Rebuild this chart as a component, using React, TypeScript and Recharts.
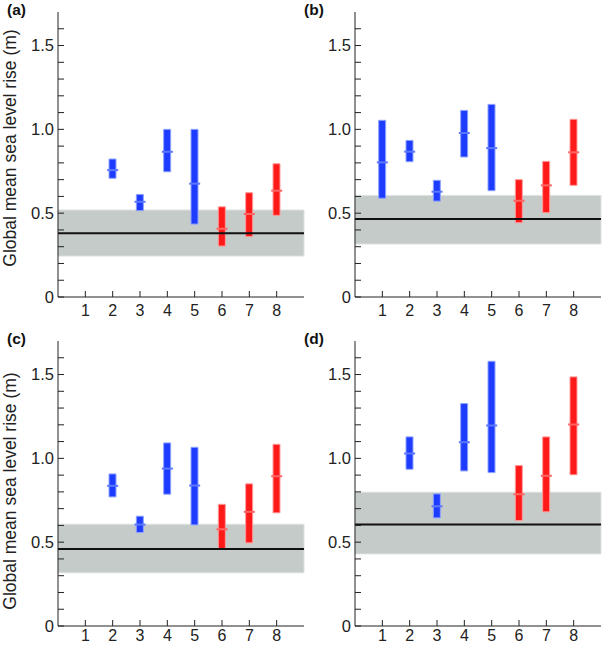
import React from 'react';
import { ComposedChart, Bar, Scatter, XAxis, YAxis, ReferenceArea, ReferenceLine, Cell } from 'recharts';

const categories = [1, 2, 3, 4, 5, 6, 7, 8];
const yTicks = [0, 0.1, 0.2, 0.3, 0.4, 0.5, 0.6, 0.7, 0.8, 0.9, 1.0, 1.1, 1.2, 1.3, 1.4, 1.5, 1.6];
const panelLabels = ['(a)', '(b)', '(c)', '(d)'];
const yTitle = 'Global mean sea level rise (m)';

const aLow = [null, 0.708, 0.515, 0.747, 0.435, 0.304, 0.36, 0.487];
const aHigh = [null, 0.823, 0.612, 1.0, 1.0, 0.538, 0.622, 0.795];
const aMed = [null, 0.757, 0.568, 0.866, 0.676, 0.407, 0.495, 0.634];

const bLow = [0.589, 0.807, 0.572, 0.835, 0.634, 0.443, 0.503, 0.666];
const bHigh = [1.054, 0.934, 0.696, 1.113, 1.149, 0.7, 0.809, 1.06];
const bMed = [0.803, 0.867, 0.628, 0.978, 0.888, 0.574, 0.666, 0.863];

const cLow = [null, 0.77, 0.558, 0.786, 0.603, 0.456, 0.496, 0.675];
const cHigh = [null, 0.907, 0.655, 1.092, 1.066, 0.726, 0.848, 1.084];
const cMed = [null, 0.836, 0.605, 0.939, 0.838, 0.577, 0.681, 0.893];

const dLow = [null, 0.935, 0.645, 0.925, 0.915, 0.629, 0.681, 0.902];
const dHigh = [null, 1.128, 0.788, 1.327, 1.579, 0.957, 1.128, 1.486];
const dMed = [null, 1.029, 0.714, 1.096, 1.196, 0.786, 0.896, 1.202];

const bandLow = [0.244, 0.316, 0.317, 0.43];
const bandHigh = [0.519, 0.606, 0.607, 0.798];
const obsLine = [0.38, 0.465, 0.46, 0.605];

const BLUE = '#1e3cff';
const BLUE_EDGE = '#8ea2ff';
const BLUE_MED = '#5a78ff';
const RED = '#ff1a1a';
const RED_EDGE = '#ff9a9a';
const RED_MED = '#ff6464';
const FRAME = '#222';
const FONT = '"Liberation Sans", Arial, Helvetica, sans-serif';

const isBlue = (x: number) => x <= 5;

function buildRows(low: (number | null)[], high: (number | null)[], med: (number | null)[]) {
  return categories
    .map((c, i) =>
      low[i] == null ? null : { x: c, range: [low[i] as number, high[i] as number], med: med[i] }
    )
    .filter(Boolean) as { x: number; range: number[]; med: number }[];
}

const panelData = [
  buildRows(aLow, aHigh, aMed),
  buildRows(bLow, bHigh, bMed),
  buildRows(cLow, cHigh, cMed),
  buildRows(dLow, dHigh, dMed),
];

const fmtY = (v: number) => {
  const r = Math.round(v * 10);
  if (r % 5 !== 0) return '';
  return r === 0 ? '0' : (r / 10).toFixed(1);
};

const positions = [
  { left: 0, top: 0, title: true, titleY: 148, xMargin: 14, h: 335 },
  { left: 297, top: 0, title: false, titleY: 148, xMargin: 14, h: 335 },
  { left: 0, top: 329, title: true, titleY: 162, xMargin: 10, h: 316 },
  { left: 297, top: 329, title: false, titleY: 162, xMargin: 10, h: 316 },
];

function Panel({ idx }: { idx: number }) {
  const rows = panelData[idx];
  const pos = positions[idx];
  const texts = () => (
    <g>
      <text x={7} y={14.5} fontSize={15.5} fontWeight="bold" fill="#111" fontFamily={FONT}>
        {panelLabels[idx]}
      </text>
      {pos.title && (
        <text
          x={10}
          y={pos.titleY}
          transform={`rotate(-90, 10, ${pos.titleY})`}
          textAnchor="middle"
          dominantBaseline="central"
          fontSize={17.5}
          fill="#222"
          fontFamily={FONT}
        >
          {yTitle}
        </text>
      )}
    </g>
  );
  return (
    <div style={{ position: 'absolute', left: pos.left, top: pos.top }}>
      <ComposedChart
        width={306}
        height={pos.h}
        data={rows}
        margin={{ top: 12, right: 2, bottom: 0, left: 0 }}
        style={{ fontFamily: FONT }}
      >
        <XAxis
          xAxisId="b"
          dataKey="x"
          type="number"
          domain={[0, 9]}
          ticks={categories}
          orientation="bottom"
          height={pos.h - 297}
          tickSize={-6}
          tickMargin={pos.xMargin}
          axisLine={{ stroke: FRAME }}
          tickLine={{ stroke: FRAME }}
          tick={{ fontSize: 16, fill: '#222', fontFamily: FONT }}
          interval={0}
        />
        <XAxis
          xAxisId="t"
          dataKey="x"
          type="number"
          domain={[0, 9]}
          ticks={categories}
          orientation="top"
          height={0}
          tickSize={-6}
          axisLine={{ stroke: FRAME }}
          tickLine={{ stroke: FRAME }}
          tick={false}
          interval={0}
        />
        <YAxis
          yAxisId="l"
          type="number"
          domain={[0, 1.7]}
          ticks={yTicks}
          orientation="left"
          width={58}
          tickSize={-6}
          tickMargin={10}
          tickFormatter={fmtY}
          axisLine={{ stroke: FRAME }}
          tickLine={{ stroke: FRAME }}
          tick={{ fontSize: 16.5, fill: '#222', fontFamily: FONT }}
          interval={0}
          allowDataOverflow
          label={texts}
        />
        <YAxis
          yAxisId="r"
          type="number"
          domain={[0, 1.7]}
          ticks={yTicks}
          orientation="right"
          width={0}
          tickSize={-6}
          axisLine={{ stroke: FRAME }}
          tickLine={{ stroke: FRAME }}
          tick={false}
          interval={0}
          allowDataOverflow
        />
        <ReferenceArea
          xAxisId="b"
          yAxisId="l"
          y1={bandLow[idx]}
          y2={bandHigh[idx]}
          fill="#c4cbc9"
          fillOpacity={1}
          stroke="#dde2e1"
          strokeWidth={1}
        />
        <ReferenceLine xAxisId="b" yAxisId="l" y={obsLine[idx]} stroke="#111" strokeWidth={2} />
        <Bar xAxisId="b" yAxisId="l" dataKey="range" barSize={7} isAnimationActive={false}>
          {rows.map((r) => (
            <Cell
              key={r.x}
              fill={isBlue(r.x) ? BLUE : RED}
              stroke={isBlue(r.x) ? BLUE_EDGE : RED_EDGE}
              strokeWidth={1}
            />
          ))}
        </Bar>
        <Scatter
          xAxisId="b"
          yAxisId="l"
          dataKey="med"
          isAnimationActive={false}
          shape={(p: any) => (
            <line
              x1={p.cx - 5.5}
              x2={p.cx + 5.5}
              y1={p.cy}
              y2={p.cy}
              stroke={isBlue(p.payload.x) ? BLUE_MED : RED_MED}
              strokeWidth={2}
            />
          )}
        />
      </ComposedChart>
    </div>
  );
}

export default function App() {
  return (
    <div style={{ position: 'absolute', left: 0, top: 0, width: 603, height: 645, background: '#fff' }}>
      {[0, 1, 2, 3].map((i) => (
        <Panel key={i} idx={i} />
      ))}
    </div>
  );
}
